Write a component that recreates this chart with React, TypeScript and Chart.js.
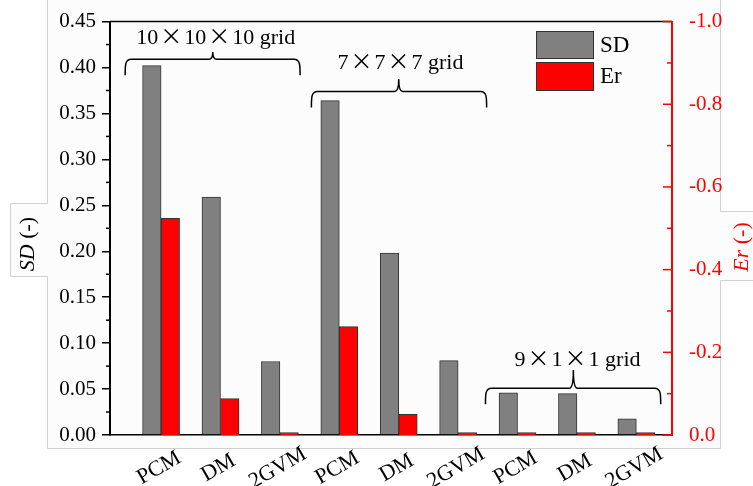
import { useEffect, useRef } from 'react';
import { Chart, registerables } from 'chart.js';

Chart.register(...registerables);

// ---------------- data ----------------
const categories = ['PCM', 'DM', '2GVM', 'PCM', 'DM', '2GVM', 'PCM', 'DM', '2GVM'];
const categoryPositions = [1, 2, 3, 4, 5, 6, 7, 8, 9];
const sdValues = [0.402, 0.259, 0.080, 0.364, 0.198, 0.081, 0.046, 0.045, 0.0175];
const erValues = [-0.524, -0.088, -0.006, -0.262, -0.05, -0.006, -0.006, -0.006, -0.006];

const sdMinorTicks = [0.025, 0.075, 0.125, 0.175, 0.225, 0.275, 0.325, 0.375, 0.425];
const erMajorTicks = [0, -0.2, -0.4, -0.6, -0.8, -1.0];
const erMinorTicks = [-0.1, -0.3, -0.5, -0.7, -0.9];

// group annotations (x in category units, y in SD units)
const groupLabels = ['10×10×10 grid', '7×7×7 grid', '9×1×1 grid'];
const groupFrom = [0.395, 3.53, 6.46];
const groupTo = [3.34, 6.48, 9.41];
const groupMid = [1.87, 5.0, 7.94];
const groupTextX = [1.92, 5.03, 8.01];
const groupLineSD = [0.409, 0.374, 0.051];
const groupTipSD = [0.417, 0.3876, 0.0708];
const groupTextSD = [0.4255, 0.3987, 0.0751];

const SERIF = '"Liberation Serif", "Times New Roman", serif';
const W = 753;
const H = 486;

function drawMixed(ctx: CanvasRenderingContext2D, text: string, cx: number, baseline: number) {
  const parts = text.split('×');
  const normal = `22px ${SERIF}`;
  const cross = `22px "Noto Sans CJK SC", ${SERIF}`;
  const pieces: { t: string; f: string }[] = [];
  parts.forEach((p, i) => {
    pieces.push({ t: p, f: normal });
    if (i < parts.length - 1) pieces.push({ t: '×', f: cross });
  });
  let total = 0;
  const widths = pieces.map((p) => {
    ctx.font = p.f;
    const w = ctx.measureText(p.t).width + (p.t === '×' ? 4 : 0);
    total += w;
    return w;
  });
  let x = cx - total / 2;
  ctx.textAlign = 'left';
  ctx.textBaseline = 'alphabetic';
  ctx.fillStyle = '#000';
  pieces.forEach((p, i) => {
    ctx.font = p.f;
    ctx.fillText(p.t, x + (p.t === '×' ? 2 : 0), baseline);
    x += widths[i];
  });
}

function drawBrace(ctx: CanvasRenderingContext2D, x1: number, x2: number, xm: number, y: number, yTip: number) {
  const r = 6;
  const drop = 16;
  const c = 4;
  ctx.beginPath();
  ctx.moveTo(x1, y + drop);
  ctx.bezierCurveTo(x1, y + 6, x1, y, x1 + r, y);
  ctx.lineTo(xm - c, y);
  ctx.quadraticCurveTo(xm, y, xm, yTip);
  ctx.quadraticCurveTo(xm, y, xm + c, y);
  ctx.lineTo(x2 - r, y);
  ctx.bezierCurveTo(x2, y, x2, y + 6, x2, y + drop);
  ctx.stroke();
}

const decorPlugin = {
  id: 'decor',
  beforeDraw(chart: any) {
    const ctx: CanvasRenderingContext2D = chart.ctx;
    ctx.save();
    ctx.fillStyle = '#ffffff';
    ctx.fillRect(0, 0, W, H);
    ctx.beginPath();
    ctx.moveTo(47.5, 0);
    ctx.lineTo(47.5, 203.5);
    ctx.lineTo(10.5, 203.5);
    ctx.lineTo(10.5, 276.5);
    ctx.lineTo(47.5, 276.5);
    ctx.lineTo(47.5, 448.5);
    ctx.lineTo(720.5, 448.5);
    ctx.lineTo(720.5, 280.5);
    ctx.lineTo(W, 280.5);
    ctx.lineTo(W, 211.5);
    ctx.lineTo(720.5, 211.5);
    ctx.lineTo(720.5, 0);
    ctx.closePath();
    ctx.fillStyle = '#fcfcfc';
    ctx.fill();
    ctx.beginPath();
    ctx.moveTo(47.5, 0);
    ctx.lineTo(47.5, 203.5);
    ctx.lineTo(10.5, 203.5);
    ctx.lineTo(10.5, 276.5);
    ctx.lineTo(47.5, 276.5);
    ctx.lineTo(47.5, 448.5);
    ctx.lineTo(720.5, 448.5);
    ctx.lineTo(720.5, 280.5);
    ctx.lineTo(W, 280.5);
    ctx.moveTo(W, 211.5);
    ctx.lineTo(720.5, 211.5);
    ctx.lineTo(720.5, 0);
    ctx.strokeStyle = '#d0d0d0';
    ctx.lineWidth = 1;
    ctx.stroke();
    ctx.restore();
  },
  afterDraw(chart: any) {
    const ctx: CanvasRenderingContext2D = chart.ctx;
    const area = chart.chartArea;
    const xs = chart.scales.x;
    const ys = chart.scales.y;
    const ys1 = chart.scales.y1;
    ctx.save();

    // top frame line
    ctx.strokeStyle = '#000';
    ctx.lineWidth = 1.5;
    ctx.beginPath();
    ctx.moveTo(area.left, area.top);
    ctx.lineTo(area.right, area.top);
    ctx.stroke();

    // left minor ticks
    ctx.lineWidth = 1.5;
    sdMinorTicks.forEach((v) => {
      const y = ys.getPixelForValue(v);
      ctx.beginPath();
      ctx.moveTo(area.left - 4, y);
      ctx.lineTo(area.left, y);
      ctx.stroke();
    });

    // right axis ticks (inward, red)
    ctx.strokeStyle = '#ff0000';
    erMajorTicks.forEach((v) => {
      const y = ys1.getPixelForValue(v);
      ctx.beginPath();
      ctx.moveTo(area.right - 9, y);
      ctx.lineTo(area.right, y);
      ctx.stroke();
    });
    erMinorTicks.forEach((v) => {
      const y = ys1.getPixelForValue(v);
      ctx.beginPath();
      ctx.moveTo(area.right - 5, y);
      ctx.lineTo(area.right, y);
      ctx.stroke();
    });

    // x labels rotated
    ctx.fillStyle = '#000';
    ctx.font = `22px ${SERIF}`;
    ctx.textAlign = 'center';
    ctx.textBaseline = 'middle';
    categories.forEach((c, i) => {
      const x = xs.getPixelForValue(categoryPositions[i]) - 2;
      ctx.save();
      ctx.translate(x, area.bottom + 33);
      ctx.rotate(-Math.PI / 6);
      ctx.fillText(c, 0, 0);
      ctx.restore();
    });

    // braces
    ctx.strokeStyle = '#000';
    ctx.lineWidth = 1.5;
    groupLabels.forEach((lab, i) => {
      drawBrace(
        ctx,
        xs.getPixelForValue(groupFrom[i]),
        xs.getPixelForValue(groupTo[i]),
        xs.getPixelForValue(groupMid[i]),
        ys.getPixelForValue(groupLineSD[i]),
        ys.getPixelForValue(groupTipSD[i])
      );
      drawMixed(ctx, lab, xs.getPixelForValue(groupTextX[i]), ys.getPixelForValue(groupTextSD[i]));
    });

    // legend
    ctx.lineWidth = 1;
    ctx.strokeStyle = '#333';
    ctx.fillStyle = '#808080';
    ctx.fillRect(536, 31, 57, 27);
    ctx.strokeRect(536.5, 31.5, 57, 27);
    ctx.fillStyle = '#ff0000';
    ctx.fillRect(536, 62, 57, 28);
    ctx.strokeRect(536.5, 62.5, 57, 28);
    ctx.fillStyle = '#000';
    ctx.font = `23px ${SERIF}`;
    ctx.textAlign = 'left';
    ctx.textBaseline = 'middle';
    ctx.fillText('SD', 600, 46);
    ctx.fillText('Er', 600, 77);

    // axis titles
    const drawTitle = (x: number, y: number, ital: string, rest: string, color: string) => {
      ctx.save();
      ctx.translate(x, y);
      ctx.rotate(-Math.PI / 2);
      ctx.fillStyle = color;
      ctx.textBaseline = 'middle';
      ctx.textAlign = 'left';
      ctx.font = `italic 22px ${SERIF}`;
      const w1 = ctx.measureText(ital).width;
      ctx.font = `22px ${SERIF}`;
      const w2 = ctx.measureText(rest).width;
      const start = -(w1 + w2) / 2;
      ctx.font = `italic 22px ${SERIF}`;
      ctx.fillText(ital, start, 0);
      ctx.font = `22px ${SERIF}`;
      ctx.fillText(rest, start + w1, 0);
      ctx.restore();
    };
    drawTitle(28, 244, 'SD', ' (-)', '#000');
    drawTitle(742, 247, 'Er', ' (-)', '#ff0000');

    ctx.restore();
  },
};

export default function App() {
  const ref = useRef<HTMLCanvasElement>(null);
  useEffect(() => {
    document.body.style.margin = '0';
    const canvas = ref.current!;
    const chart = new Chart(canvas, {
      type: 'bar',
      data: {
        datasets: [
          {
            label: 'SD',
            data: categoryPositions.map((x, i) => ({ x, y: sdValues[i] })),
            backgroundColor: '#808080',
            borderColor: '#333333',
            borderWidth: 1,
            barThickness: 18.5,
            yAxisID: 'y',
          },
          {
            label: 'Er',
            data: categoryPositions.map((x, i) => ({ x, y: erValues[i] })),
            backgroundColor: '#ff0000',
            borderColor: '#333333',
            borderWidth: 1,
            barThickness: 18.5,
            yAxisID: 'y1',
          },
        ],
      },
      options: {
        responsive: false,
        animation: false,
        devicePixelRatio: 1,
        layout: { padding: { top: 19, left: 0, right: 0, bottom: 0 } },
        plugins: { legend: { display: false }, tooltip: { enabled: false } },
        scales: {
          x: {
            type: 'linear',
            min: 0.14,
            max: 9.6,
            offset: false,
            grid: { display: false },
            ticks: { display: false, stepSize: 1, includeBounds: false },
            border: { display: true, color: '#000', width: 1.5 },
            afterFit: (s: any) => {
              s.height = 51;
            },
          },
          y: {
            type: 'linear',
            position: 'left',
            min: 0,
            max: 0.45,
            ticks: {
              stepSize: 0.05,
              color: '#000',
              font: { family: SERIF, size: 21 },
              padding: 6,
              callback: (v: any) => Number(v).toFixed(2),
            },
            grid: { display: true, drawOnChartArea: false, color: '#000', lineWidth: 1.5, tickLength: 8 },
            border: { display: true, color: '#000', width: 2 },
            afterFit: (s: any) => {
              s.width = 110;
            },
          },
          y1: {
            type: 'linear',
            position: 'right',
            min: -1,
            max: 0,
            reverse: true,
            ticks: {
              stepSize: 0.2,
              color: '#ff0000',
              font: { family: SERIF, size: 21 },
              padding: 9,
              callback: (v: any) => Number(v).toFixed(1),
            },
            grid: { display: false },
            border: { display: true, color: '#ff0000', width: 2 },
            afterFit: (s: any) => {
              s.width = 81;
            },
          },
        },
      } as any,
      plugins: [decorPlugin],
    });
    return () => chart.destroy();
  }, []);
  return (
    <div style={{ width: W, height: H }}>
      <canvas ref={ref} width={W} height={H} style={{ display: 'block', width: W, height: H }} />
    </div>
  );
}
